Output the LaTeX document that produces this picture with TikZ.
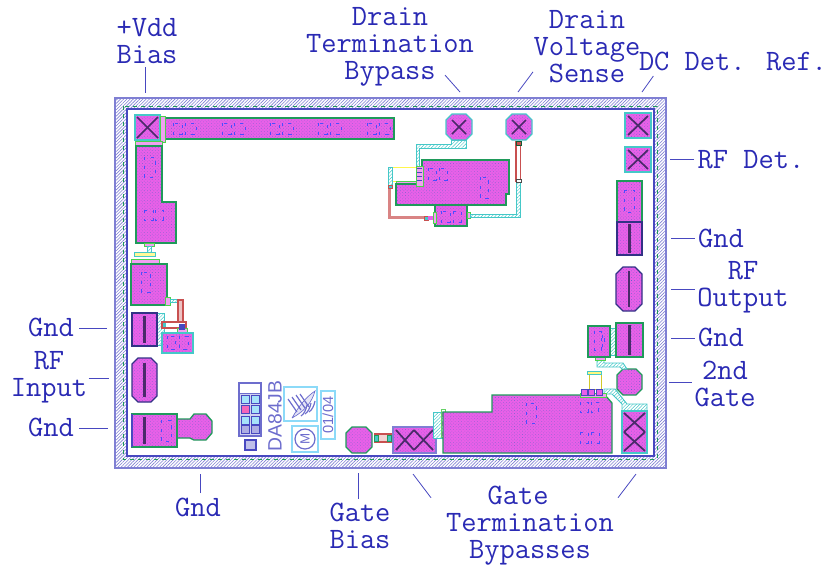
\documentclass[tikz,border=0pt]{standalone}
\usepackage{fontspec}
\usepackage{xcolor}
\usepackage{tikz}
\usetikzlibrary{patterns,patterns.meta,positioning,calc}
\newfontfamily\chipfont{Liberation Sans}

\definecolor{labelblue}{HTML}{2A2AB4}
\definecolor{padmag}{HTML}{E860E8}
\definecolor{padgreen}{HTML}{1F9A5A}
\definecolor{padcyan}{HTML}{45C8C8}
\definecolor{edgeblue}{HTML}{4848C0}
\definecolor{resred}{HTML}{C85050}
\definecolor{viadark}{HTML}{4A2A6A}

\tikzset{
  chiplabel/.style={font=\ttfamily\fontsize{22.2}{20.3}\selectfont,text=labelblue,align=center,inner sep=1pt},
  leader/.style={draw=edgeblue,line width=0.6pt},
  pad/.style={draw=padgreen,line width=1pt,preaction={fill=padmag},
    pattern={Dots[radius=0.28pt,distance=1.7pt,angle=45]},pattern color=edgeblue!85},
  gndpad/.style={pad,draw=edgeblue!70!black},
  cyanpad/.style={pad,draw=padcyan},
  hatchpad/.style={draw=padcyan,line width=0.7pt,preaction={fill=white},
    pattern={Lines[angle=45,distance=1.8pt,line width=0.35pt]},pattern color=padcyan},
  via/.style={draw=viadark,line width=1.3pt},
  capmark/.style={draw=blue!70,line width=0.6pt,dash pattern=on 2.5pt off 4pt},
  greentab/.style={draw=green!75!black!70,line width=0.6pt,fill=padmag!60},
  resline/.style={draw=resred,line width=0.8pt,fill=resred!35},
  logoline/.style={draw=edgeblue!80,line width=0.5pt},
}

% octagon between two corners, last argument is the chamfer
\newcommand{\octpad}[6][pad]{
  \draw[#1] ({#2+#6},#3) -- ({#4-#6},#3) -- (#4,{#3+#6}) -- (#4,{#5-#6})
    -- ({#4-#6},#5) -- ({#2+#6},#5) -- (#2,{#5-#6}) -- (#2,{#3+#6}) -- cycle;
}
\newcommand{\viax}[4]{
  \draw[via] (#1,#2) -- (#3,#4);
  \draw[via] (#1,#4) -- (#3,#2);
}
\newcommand{\viabar}[3]{
  \draw[via,line width=2pt] (#1,#2) -- (#1,#3);
}
\newcommand{\capbox}[4]{
  \draw[capmark] (#1,#2) rectangle (#3,#4);
}

\begin{document}
\begin{tikzpicture}[x=0.75pt,y=-0.75pt]
  \useasboundingbox (0,0) rectangle (828,569);

  % --- Chip frame ---
  \fill[pattern={Lines[angle=45,distance=1.7pt,line width=0.45pt]},pattern color=edgeblue!70,even odd rule]
    (115,98) rectangle (666,468) (127,109) rectangle (654,456);
  \draw[draw=edgeblue!70,line width=0.9pt] (115,98) rectangle (666,468);
  \draw[draw=edgeblue,line width=0.9pt] (127,109) rectangle (654,456);
  \draw[draw=padgreen,line width=0.5pt,dashed] (123,106) rectangle (657,459);

  % --- Top left strip and L shaped capacitor ---
  \draw[cyanpad] (135,115) rectangle (160,140);
  \viax{137}{117}{158}{138}
  \draw[pad] (163,118) rectangle (394,139);
  \fill[greentab] (160,116) rectangle (165,142);
  \foreach \x in {173,222,270,318,367} {
    \capbox{\x}{123}{\x+9}{134}
    \capbox{\x+12}{123}{\x+23}{134}
  }
  \draw[greentab] (135,141) rectangle (162,146);
  \draw[pad] (136,146) -- (162,146) -- (162,202) -- (176,202) -- (176,243) -- (136,243) -- cycle;
  \capbox{144}{157}{155}{177}
  \capbox{144}{210}{153}{220}
  \capbox{155}{210}{163}{220}

  % --- Small neck down to second capacitor ---
  \draw[greentab] (144,243) rectangle (154,246);
  \draw[hatchpad] (147,246) rectangle (151,253);
  \draw[hatchpad,fill=yellow!40] (134,252) rectangle (155,256);
  \draw[greentab] (131,259) rectangle (159,264);
  \draw[pad] (131,264) rectangle (167,305);
  \capbox{141}{272}{150}{292}

  % --- Parts next to the left hand pads ---
  \draw[greentab] (165,297) rectangle (170,305);
  \draw[hatchpad] (170,299) rectangle (182,302);
  \draw[resline] (178,300) rectangle (183,323);
  \draw[hatchpad] (157,313) rectangle (164,345);
  \draw[resline,fill=white] (162,322) rectangle (186,328);
  \fill[padcyan] (163,323) rectangle (166,327);
  \draw[greentab] (177,328) rectangle (187,333);
  \fill[edgeblue] (179,324) rectangle (185,330);
  \draw[gndpad] (132,313) rectangle (157,346);
  \viabar{144.5}{316}{343}
  \draw[cyanpad] (162,333) rectangle (193,353);
  \capbox{167}{336}{175}{349}
  \capbox{179}{336}{188}{349}

  % --- Left octagon and bottom left pad ---
  \octpad[gndpad]{132}{358}{157}{402}{6}
  \viabar{144.5}{363}{397}
  \draw[pad] (177,419) -- (190,419) -- (194,414) -- (206,414) -- (212,421) -- (212,433) -- (206,440) -- (194,440)
    -- (190,438) -- (177,438) -- cycle;
  \draw[pad] (132,414) rectangle (177,447);
  \draw[draw=edgeblue,line width=0.8pt] (132,414) -- (132,447);
  \viabar{144.5}{417}{444}
  \capbox{161}{420}{171}{441}

  % --- Test structure and marks ---
  \draw[draw=edgeblue!80,fill=edgeblue!25,line width=0.8pt] (239,383) rectangle (261,436);
  \draw[draw=edgeblue!80,fill=white,line width=0.7pt] (239.5,383) rectangle (260.5,393);
  \foreach \x/\y/\c in {241/395/cyan!35,251/395/cyan!35,241/405/magenta!60,251/405/cyan!35,241/416/cyan!35,251/416/cyan!35} {
    \draw[draw=edgeblue,fill=\c,line width=0.5pt] (\x,\y) rectangle ++(8,8);
  }
  \foreach \x in {241,251} {
    \draw[draw=edgeblue,fill=edgeblue!45,line width=0.5pt] (\x,425) rectangle ++(8,8);
  }
  \draw[draw=edgeblue,fill=edgeblue!35,line width=0.8pt] (245,440) rectangle (256,450);
  \node[font=\chipfont\fontsize{14.5}{15}\selectfont,text=edgeblue!80,rotate=90,inner sep=0pt] (mask) at (275,416) {DA84JB};
  \draw[draw=cyan!45,line width=0.9pt] (284,387) rectangle (317,421);
  \draw[draw=cyan!45,line width=0.9pt] (292,426) rectangle (318,452);
  \draw[draw=cyan!45,line width=0.9pt] (321,391) rectangle (335,439);

  % feather logo
  \draw[logoline,fill=edgeblue!15] (292,418) .. controls (299,406) and (306,397) .. (315,391)
    .. controls (312,402) and (305,411) .. (292,418);
  \foreach \x/\y in {288/399,292/397,296/395,300/394} {
    \draw[logoline,line width=0.9pt] (\x,\y) -- (\x+9,\y+13);
  }
  \foreach \x/\y in {307/405,311/403,315/401} {
    \draw[logoline,line width=0.9pt] (\x,\y) .. controls (\x-1,\y+5) and (\x-3,\y+9) .. (\x-6,\y+11);
  }
  \draw[draw=edgeblue!80,line width=0.9pt] (305,439) circle (10);
  \node[font=\chipfont\fontsize{10}{11}\selectfont,text=edgeblue!80,rotate=90,inner sep=0pt] (logo) at (305,439) {M};
  \node[font=\chipfont\fontsize{11}{12}\selectfont,text=edgeblue!80,rotate=90,inner sep=0pt] (datecode) at (328,415) {01/04};

  % --- Gate bias pad and resistor ---
  \octpad[pad]{346}{427}{372}{453}{6}
  \draw[resline,fill=resred!25] (375,434) rectangle (392,442);
  \draw[draw=padgreen,fill=padcyan,line width=0.6pt] (374,435) rectangle (378,441);
  \draw[draw=padgreen,fill=padcyan,line width=0.6pt] (387,435) rectangle (391,441);
  \draw[pad,draw=edgeblue!70] (393,427) rectangle (436,453);
  \viax{396}{430}{414}{450}
  \viax{414}{430}{433}{450}

  % --- Bottom capacitor ---
  \draw[hatchpad] (433,412) rectangle (443,438);
  \draw[draw=green!70!black!60,line width=0.5pt] (441,409) rectangle (445,437);
  \foreach \y in {413,422,432} {
    \fill[padmag] (441.5,\y) rectangle (444.5,\y+4);
  }
  \draw[pad] (443,412) -- (492,412) -- (492,395) -- (605,395) -- (612,403) -- (612,453) -- (443,453) -- cycle;
  \capbox{526}{403}{536}{423}
  \capbox{580}{402}{588}{412}
  \capbox{591}{402}{598}{412}
  \capbox{580}{432}{588}{443}
  \capbox{591}{432}{599}{443}

  % --- Bottom right, second gate ---
  \draw[hatchpad] (604,389) -- (615,389) -- (627,404) -- (647,404) -- (647,411) -- (622,411) -- (622,404) -- (612,394) -- (604,394) -- cycle;
  \draw[hatchpad,fill=white,draw=yellow!80!black] (589,374) rectangle (601,389);
  \draw[hatchpad,fill=yellow!50] (587,371) rectangle (601,374);
  \draw[greentab] (580,393) rectangle (606,397);
  \foreach \x in {581,588,596} {
    \draw[draw=edgeblue,fill=padmag,line width=0.4pt] (\x,389) rectangle ++(6,6);
  }
  \draw[pad,draw=padcyan] (622,411) rectangle (647,453);
  \viax{624}{413}{645}{432}
  \viax{624}{432}{645}{451}
  \octpad[pad]{617}{369}{642}{395}{6}
  \draw[hatchpad] (597,357) -- (604,357) -- (604,363) -- (623,363) -- (627,369) -- (622,369) -- (620,367) -- (597,367) -- cycle;
  \draw[greentab] (595,356) rectangle (605,360);
  \draw[hatchpad] (610,328) rectangle (617,355);
  \draw[pad] (588,326) rectangle (610,357);
  \capbox{594}{331}{601}{350}
  \capbox{602}{335}{604}{346}
  \draw[pad] (616,323) rectangle (643,357);
  \viabar{629.5}{325}{355}

  % --- Right hand column ---
  \octpad[gndpad]{616}{267}{642}{311}{7}
  \viabar{629}{271}{307}
  \draw[pad,draw=padcyan] (625,113) rectangle (651,138);
  \viax{628}{116}{648}{135}
  \draw[pad,draw=padcyan] (625,147) rectangle (651,172);
  \viax{628}{150}{648}{169}
  \draw[pad] (617,181) rectangle (642,222);
  \capbox{624}{190}{634}{212}
  \draw[gndpad] (617,222) rectangle (642,255);
  \viabar{629.5}{224}{253}

  % --- Drain termination group ---
  \draw[hatchpad] (416,167) -- (416,144) -- (451,144) -- (451,140) -- (466,140) -- (466,148) -- (419,148) -- (419,167) -- cycle;
  \octpad[pad,draw=padcyan]{446}{114}{472}{140}{6}
  \viax{452}{120}{466}{134}
  \octpad[pad,draw=padcyan]{506}{114}{532}{140}{6}
  \viax{512}{120}{526}{134}
  \draw[draw=yellow!70,line width=0.6pt] (390,167) rectangle (416,181);
  \draw[greentab] (396,181) rectangle (417,184);
  \draw[pad] (422,160) -- (509,160) -- (509,194) -- (506,194) -- (506,205) -- (396,205) -- (396,184) -- (422,184) -- cycle;
  \draw[greentab] (416,166) rectangle (423,186);
  \foreach \y in {168,172,176,180} {
    \draw[draw=edgeblue,line width=0.4pt] (417,\y) -- (422,\y);
  }
  \capbox{428}{168}{436}{180}
  \capbox{439}{168}{447}{180}
  \capbox{480}{177}{488}{198}
  \draw[pad] (435,205) rectangle (467,226);
  \capbox{441}{211}{450}{222}
  \capbox{453}{211}{461}{222}
  \draw[greentab] (433,212) rectangle (436,223);
  \draw[greentab] (467,212) rectangle (470,218);

  % cyan and red lines to the resistors
  \draw[hatchpad] (388,167) rectangle (392,186);
  \draw[draw=resred!70,line width=2pt] (389.5,188) -- (389.5,217.5) -- (425,217.5);
  \draw[draw=resred,fill=padcyan,line width=0.6pt] (388,185.5) rectangle (392,188);
  \draw[draw=resred,fill=padcyan,line width=0.6pt] (424,216) rectangle (428,220);
  \fill[padmag] (428,216) rectangle (433,220);
  \draw[hatchpad] (470,214) -- (516,214) -- (516,181) -- (520,181) -- (520,217) -- (470,217) -- cycle;
  \draw[resline,fill=white] (516,142) rectangle (520.5,181);
  \draw[draw=padgreen!60!black,fill=resred,line width=0.5pt] (516,141) rectangle (521,145);
  \draw[draw=black!70,fill=white,line width=0.5pt] (516,179) rectangle (521,182);

  % --- Labels ---
  \node[chiplabel] (vdd) at (147,41) {+Vdd\\Bias};
  \node[chiplabel] (drainterm) at (390,47) {Drain\\Termination\\Bypass};
  \node[chiplabel] (drainsense) at (587,47) {Drain\\Voltage\\Sense};
  \node[chiplabel] (dcdet) at (733,61) {DC Det. Ref.};
  \node[chiplabel] (rfdet) at (751,160) {RF Det.};
  \node[chiplabel] (gndrighta) at (721,238) {Gnd};
  \node[chiplabel] (rfout) at (743,287) {RF\\Output};
  \node[chiplabel] (gndrightb) at (721,337) {Gnd};
  \node[chiplabel] (gatetwo) at (725,384) {2nd\\Gate};
  \node[chiplabel] (gndlefta) at (51,327) {Gnd};
  \node[chiplabel] (rfin) at (49,377) {RF\\Input};
  \node[chiplabel] (gndleftb) at (51,427) {Gnd};
  \node[chiplabel] (gndbottom) at (198,507) {Gnd};
  \node[chiplabel] (gatebias) at (360,526) {Gate\\Bias};
  \node[chiplabel] (gateterm) at (530,526) {Gate\hspace*{18pt}\\Termination\\Bypasses};

  % --- Leader lines ---
  \coordinate (termtip) at (460,92);
  \coordinate (sensetip) at (518,92);
  \coordinate (dctip) at (642,92);
  \coordinate (termleft) at (413,474);
  \coordinate (termright) at (636,474);
  \coordinate (vddtip) at (145,93);
  \coordinate (gndtip) at (200,474);
  \coordinate (gatetip) at (358,473);
  \draw[leader] (vdd.south -| vddtip) ++(0,2) -- (vddtip);
  \draw[leader] (drainterm.south) ++(55,-13) -- (termtip);
  \draw[leader] (drainsense.south) ++(-54,-13) -- (sensetip);
  \draw[leader] (dcdet.south west) ++(16,4) -- (dctip);
  \draw[leader] (rfdet.west) ++(-2,-1) -- ++(-24,0);
  \draw[leader] (gndrighta.west) ++(-2,0) -- ++(-24,0);
  \draw[leader] (rfout.west) ++(-1,2) -- ++(-24,0);
  \draw[leader] (gndrightb.west) ++(-2,1) -- ++(-24,0);
  \draw[leader] (gatetwo.west) ++(-1,-2) -- ++(-23,0);
  \draw[leader] (gndlefta.east) ++(4,1) -- ++(28,0);
  \draw[leader] (rfin.east) ++(0,1) -- ++(20,0);
  \draw[leader] (gndleftb.east) ++(4,1) -- ++(29,0);
  \draw[leader] (gndbottom.north -| gndtip) ++(0,-3) -- (gndtip);
  \draw[leader] (gatebias.north -| gatetip) ++(0,-3) -- (gatetip);
  \draw[leader] (gateterm.north) ++(-99,13) -- (termleft);
  \draw[leader] (gateterm.north) ++(88,13) -- (termright);
\end{tikzpicture}
\end{document}
